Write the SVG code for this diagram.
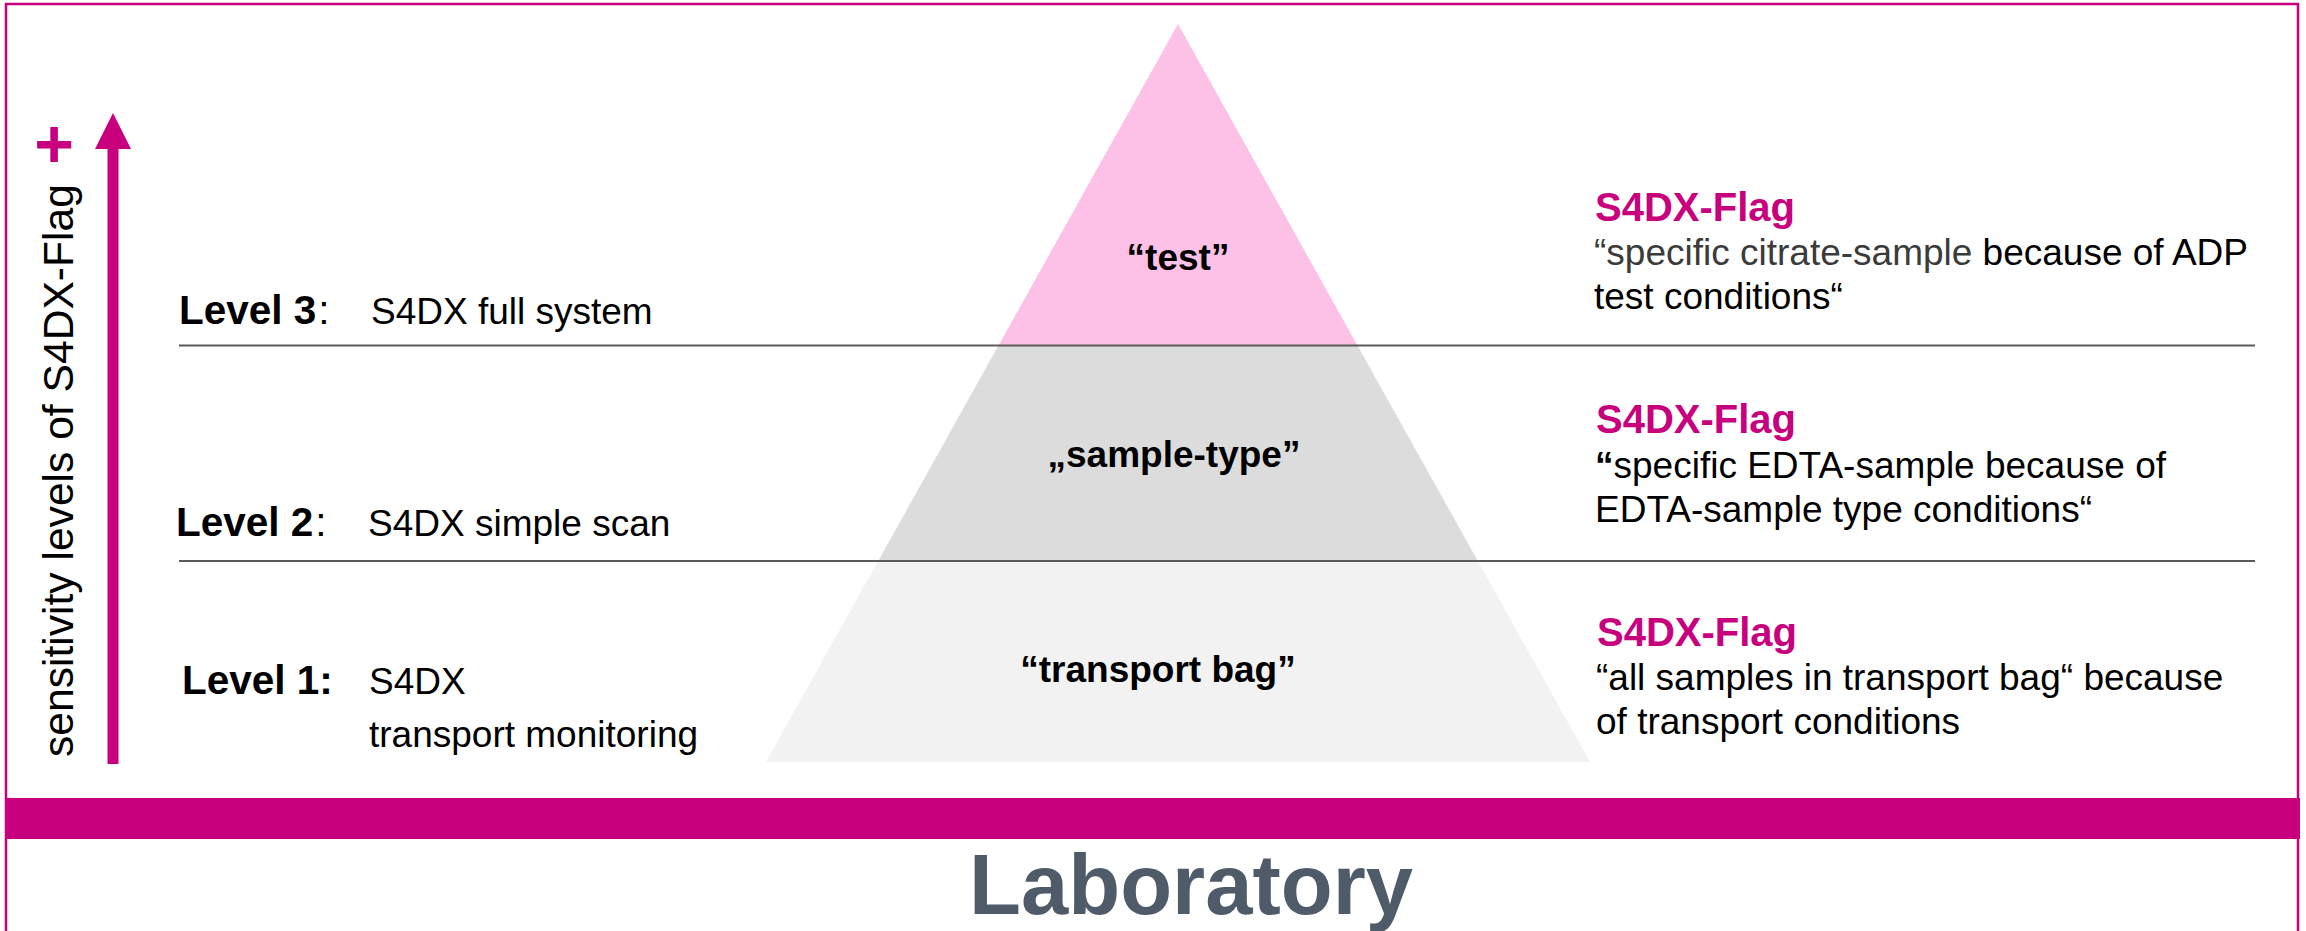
<svg xmlns="http://www.w3.org/2000/svg" width="2306" height="931" viewBox="0 0 2306 931">
<style>
text{font-family:"Liberation Sans",Arial,sans-serif;}
.lvl{font-size:40.5px;font-weight:bold;fill:#000;}
.desc{font-size:37px;fill:#000;}
.pyr{font-size:37px;font-weight:bold;fill:#000;text-anchor:middle;}
.flag{font-size:40px;font-weight:bold;fill:#c8007e;}
.body{font-size:37px;fill:#000;}
.sep{stroke:#5a5a5a;stroke-width:2;fill:none;}
</style>
<defs>
<clipPath id="tri"><polygon points="1178,24 766,762 1590,762"/></clipPath>
</defs>
<rect x="0" y="0" width="2306" height="931" fill="#fff"/>
<rect id="frame" x="6" y="4" width="2292" height="960" fill="none" stroke="#c8007e" stroke-width="2.5"/>

<g id="pyramid" clip-path="url(#tri)">
<rect x="760" y="20" width="840" height="325" fill="#fdc1e7"/>
<rect x="760" y="345" width="840" height="216" fill="#dcdcdc"/>
<rect x="760" y="561" width="840" height="205" fill="#f2f2f2"/>
</g>

<g id="connectors">
<line class="sep" x1="179" y1="345.5" x2="2255" y2="345.5"/>
<line class="sep" x1="179" y1="561" x2="2255" y2="561"/>
<polygon points="113,113 95,149 131,149" fill="#c8007e"/>
<rect x="107.5" y="146" width="11" height="618" fill="#c8007e"/>
</g>

<g id="axis-label">
<text transform="translate(73,757) rotate(-90)" font-size="42.6" fill="#000">sensitivity levels of S4DX-Flag</text>
<text x="54" y="167" font-size="68" font-weight="bold" fill="#c8007e" text-anchor="middle">+</text>
</g>

<g id="level3">
<text x="179" y="324" class="lvl">Level 3<tspan font-weight="normal" dx="2">:</tspan></text>
<text x="371" y="324" class="desc">S4DX full system</text>
</g>
<g id="level2">
<text x="176" y="536" class="lvl">Level 2<tspan font-weight="normal" dx="2">:</tspan></text>
<text x="368" y="536" class="desc">S4DX simple scan</text>
</g>
<g id="level1">
<text x="182" y="694" class="lvl">Level 1:</text>
<text x="369" y="694" class="desc">S4DX</text>
<text x="369" y="747" class="desc">transport monitoring</text>
</g>

<g id="pyr-test"><text x="1178" y="270" class="pyr">“test”</text></g>
<g id="pyr-sample"><text x="1174" y="467" class="pyr">„sample-type”</text></g>
<g id="pyr-bag"><text x="1158" y="682" class="pyr">“transport bag”</text></g>

<g id="flag3">
<text x="1595" y="221" class="flag">S4DX-Flag</text>
<text x="1594" y="265" class="body"><tspan fill="#3b3b3b">“specific citrate-sample</tspan> because of ADP</text>
<text x="1594" y="309" class="body">test conditions“</text>
</g>
<g id="flag2">
<text x="1596" y="433" class="flag">S4DX-Flag</text>
<text x="1595" y="478" class="body"><tspan font-weight="bold">“</tspan>specific EDTA-sample because of</text>
<text x="1595" y="522" class="body">EDTA-sample type conditions“</text>
</g>
<g id="flag1">
<text x="1597" y="646" class="flag">S4DX-Flag</text>
<text x="1596" y="690" class="body">“all samples in transport bag“ because</text>
<text x="1596" y="734" class="body">of transport conditions</text>
</g>

<g id="laboratory">
<rect x="6" y="798" width="2294" height="41" fill="#c8007e"/>
<text x="1191" y="914" font-size="85" font-weight="bold" fill="#4f5b69" text-anchor="middle">Laboratory</text>
</g>
</svg>
